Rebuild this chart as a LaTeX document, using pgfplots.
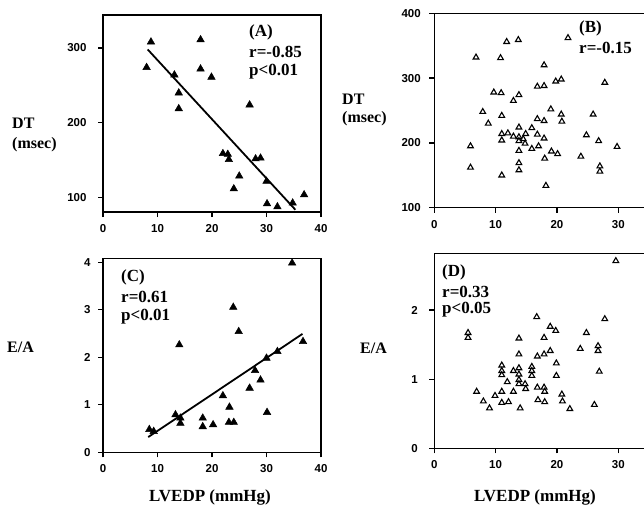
\documentclass[border=0pt]{standalone}
\usepackage{fontspec}
\setmainfont{Liberation Serif}
\newfontfamily\tickfont{Liberation Sans}
\usepackage{pgfplots}
\pgfplotsset{compat=1.18}

% shared look of the four panels
\pgfplotsset{
  panel/.style={
    scale only axis, anchor=south west,
    xmin=0, xmax=40, xtick={0,10,20,30,40},
    axis line style={line width=1.5pt},
    tick style={line width=1.2pt,black},
    tick align=outside, major tick length=5pt,
    xtick pos=bottom, ytick pos=left,
    ticklabel style={font=\tickfont\bfseries\fontsize{11.5}{12}\selectfont},
    xticklabel style={yshift=-4pt},
    /pgf/number format/assume math mode=true,
    clip=false,
  },
  filled/.style={only marks, mark=triangle*, mark size=4.3pt,
    mark options={fill=black,draw=black,line width=0.5pt}},
  hollow/.style={only marks, mark=triangle, mark size=3.3pt,
    mark options={draw=black,line width=1.1pt}},
  fitline/.style={no marks, line width=1.8pt, black},
}
\tikzset{
  lab/.style={font=\bfseries\fontsize{16}{19}\selectfont, inner sep=0pt},
  ann/.style={font=\bfseries\fontsize{17}{20}\selectfont, inner sep=0pt, anchor=west},
}

\begin{document}
\begin{tikzpicture}

% (A) DT vs LVEDP, patients
\begin{axis}[panel, at={(103pt,292pt)}, width=218pt, height=197pt,
  ymin=81, ymax=344, ytick={100,200,300},
  yticklabel style={xshift=-8pt}]
\addplot[filled] coordinates {
  (8.8,308) (8.0,274) (17.9,311) (17.9,272) (13.1,264) (19.9,261)
  (13.9,240) (13.9,219) (26.9,224) (22.0,159) (22.9,158) (23.1,151)
  (28.0,152) (28.9,153) (25.0,129) (24.0,112) (30.0,122) (30.1,92)
  (32.0,88) (34.8,93) (36.9,104)};
\addplot[fitline] coordinates {(8.2,298) (35.3,84)};
\end{axis}

% (B) DT vs LVEDP, second group
\begin{axis}[panel, at={(434.3pt,296.3pt)}, width=245.3pt, height=194.4pt,
  ymin=100, ymax=400, ytick={100,200,300,400}, xtick={0,10,20,30},
  yticklabel style={xshift=-5pt}]
\addplot[hollow] coordinates {
  (11.8,356) (13.7,359) (21.8,362) (6.8,332) (10.8,331) (17.9,320)
  (19.8,295) (20.7,298) (27.8,293) (16.8,287) (17.9,288) (9.7,278)
  (10.9,277) (13.8,274) (12.9,265) (7.9,248) (11.0,242) (19.0,252)
  (20.7,244) (20.8,233) (25.9,244) (16.8,237) (17.9,234) (8.8,230)
  (13.8,224) (15.9,223) (11.0,214) (12.0,215) (12.9,210) (13.8,209)
  (14.9,214) (16.8,213) (11.0,204) (13.8,203) (14.8,199) (24.8,212)
  (26.8,203) (17.9,207) (5.9,195) (13.8,188) (15.9,191) (17.0,195)
  (19.1,187) (20.1,183) (18.0,176) (23.9,179) (29.8,194) (5.9,162)
  (13.8,169) (13.8,158) (11.0,150) (27.0,164) (27.0,156) (18.2,134)
  (14.5,206)};
\end{axis}

% (C) E/A vs LVEDP, patients
\begin{axis}[panel, at={(103pt,51.7pt)}, width=218pt, height=194pt,
  ymin=0, ymax=4.08, ytick={0,1,2,3,4},
  yticklabel style={xshift=-4pt}]
\addplot[filled] coordinates {
  (34.7,3.98) (23.9,3.05) (24.9,2.54) (14.0,2.26) (36.7,2.33) (32.0,2.12)
  (30.0,1.98) (27.9,1.72) (28.9,1.52) (26.9,1.35) (22.0,1.19) (23.2,0.95)
  (30.1,0.84) (13.3,0.79) (14.2,0.72) (14.2,0.61) (18.3,0.72) (18.3,0.54)
  (20.2,0.58) (23.1,0.63) (24.0,0.63) (8.5,0.48) (9.3,0.44)};
\addplot[fitline] coordinates {(8.3,0.32) (36.6,2.49)};
\end{axis}

% (D) E/A vs LVEDP, second group
\begin{axis}[panel, at={(434.3pt,55.7pt)}, width=245.3pt, height=195pt,
  ymin=0, ymax=2.82, ytick={0,1,2}, xtick={0,10,20,30},
  yticklabel style={xshift=-8pt}]
\addplot[hollow] coordinates {
  (29.6,2.71) (16.7,1.90) (27.8,1.87) (18.9,1.76) (19.8,1.70) (5.5,1.67)
  (5.5,1.60) (24.8,1.67) (13.8,1.59) (17.9,1.60) (26.7,1.48) (26.7,1.41)
  (23.8,1.44) (18.9,1.41) (17.9,1.36) (16.8,1.33) (13.8,1.36) (19.9,1.23)
  (11.0,1.20) (11.0,1.12) (15.9,1.18) (15.9,1.12) (12.9,1.12) (13.8,1.16)
  (13.8,1.07) (11.0,1.06) (15.9,1.05) (19.9,1.05) (26.9,1.11) (11.9,0.96)
  (13.8,0.99) (13.8,0.93) (14.8,0.93) (14.9,0.86) (16.8,0.88) (17.9,0.88)
  (18.0,0.82) (12.9,0.82) (6.9,0.82) (9.9,0.76) (11.0,0.82) (8.0,0.68)
  (11.0,0.66) (12.1,0.67) (16.9,0.70) (18.0,0.67) (20.8,0.78) (20.9,0.68)
  (9.0,0.58) (14.0,0.58) (22.1,0.57) (26.1,0.63)};
\end{axis}

% axis titles
\node[lab, anchor=west] at (12pt,381pt) {DT};
\node[lab, anchor=west] at (12pt,359pt) {(msec)};
\node[lab, anchor=west] at (342pt,405pt) {DT};
\node[lab, anchor=west] at (342pt,385pt) {(msec)};
\node[lab, anchor=west] at (7pt,157pt) {E/A};
\node[lab, anchor=west] at (360pt,156pt) {E/A};
\node[lab, font=\bfseries\fontsize{17}{20}\selectfont, anchor=base] at (210pt,3pt) {LVEDP (mmHg)};
\node[lab, font=\bfseries\fontsize{17}{20}\selectfont, anchor=base] at (535pt,3pt) {LVEDP (mmHg)};

% panel notes
\node[ann] at (249pt,472pt) {(A)};
\node[ann] at (249pt,452pt) {r=-0.85};
\node[ann] at (249pt,432pt) {p<0.01};
\node[ann] at (579pt,476pt) {(B)};
\node[ann] at (579pt,456pt) {r=-0.15};
\node[ann] at (121pt,227pt) {(C)};
\node[ann] at (121pt,207pt) {r=0.61};
\node[ann] at (121pt,187pt) {p<0.01};
\node[ann] at (442pt,232pt) {(D)};
\node[ann] at (442pt,212pt) {r=0.33};
\node[ann] at (442pt,194pt) {p<0.05};

% the right panels run past the page edge, as in the scan
\pgfresetboundingbox
\useasboundingbox (0pt,0pt) rectangle (644pt,504pt);
\end{tikzpicture}
\end{document}
